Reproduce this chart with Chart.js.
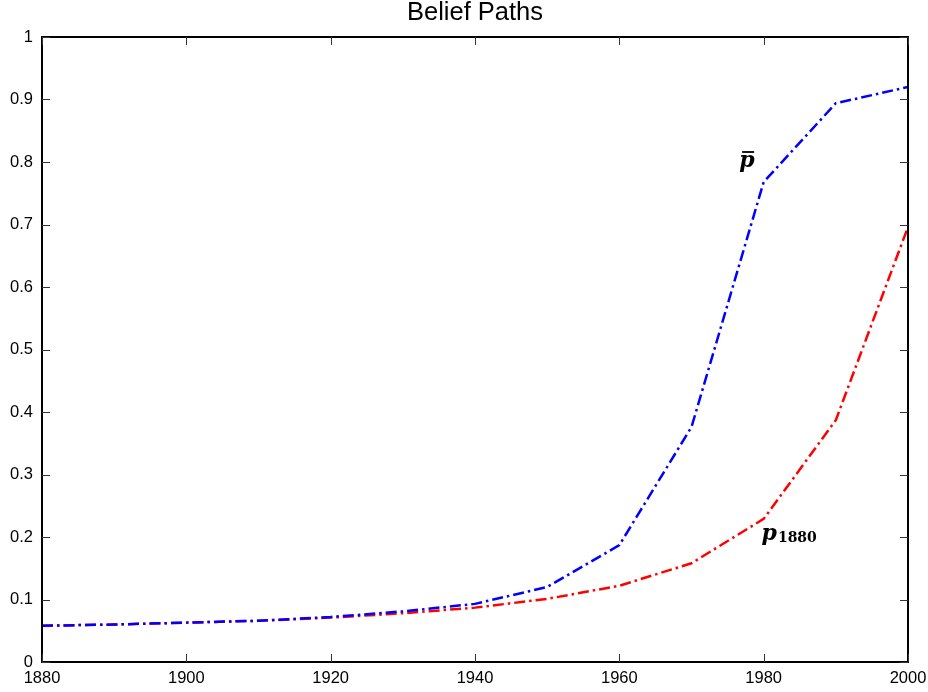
<!DOCTYPE html>
<html>
<head>
<meta charset="utf-8">
<title>Belief Paths</title>
<script src="https://cdn.jsdelivr.net/npm/chart.js@4.4.1/dist/chart.umd.min.js"></script>
<style>
    html, body { margin: 0; padding: 0; background: #fff; }
    #wrap { width: 928px; height: 692px; }
</style>
</head>
<body>
<div id="wrap"><canvas id="chart-belief"></canvas></div>
<script>
const years = [1880, 1890, 1900, 1910, 1920, 1930, 1940, 1950, 1960, 1970, 1980, 1990, 2000];
const pBar = [0.058, 0.060, 0.063, 0.066, 0.072, 0.081, 0.093, 0.120, 0.187, 0.376, 0.768, 0.894, 0.920];
const p1880 = [0.058, 0.060, 0.063, 0.066, 0.071, 0.078, 0.087, 0.101, 0.122, 0.158, 0.229, 0.387, 0.696];
const xTicks = [1880, 1900, 1920, 1940, 1960, 1980, 2000];
const yTicks = [0, 0.1, 0.2, 0.3, 0.4, 0.5, 0.6, 0.7, 0.8, 0.9, 1];

const toPoints = vals => years.map((yr, i) => ({ x: yr, y: vals[i] }));

// box round the plot area, inward ticks on all four sides, curve labels
const boxPlugin = {
    id: 'matlabBox',
    afterDraw(chart) {
        const { ctx, chartArea: a, scales } = chart;
        ctx.save();
        ctx.strokeStyle = '#000';
        ctx.lineWidth = 2;
        ctx.strokeRect(a.left, a.top, a.right - a.left, a.bottom - a.top);

        ctx.strokeStyle = '#333';
        ctx.lineWidth = 1;
        const len = 8;
        ctx.beginPath();
        xTicks.forEach(v => {
            const px = Math.round(scales.x.getPixelForValue(v)) + 0.5;
            ctx.moveTo(px, a.bottom); ctx.lineTo(px, a.bottom - len);
            ctx.moveTo(px, a.top); ctx.lineTo(px, a.top + len);
        });
        yTicks.forEach(v => {
            const py = Math.round(scales.y.getPixelForValue(v)) + 0.5;
            ctx.moveTo(a.left, py); ctx.lineTo(a.left + len, py);
            ctx.moveTo(a.right, py); ctx.lineTo(a.right - len, py);
        });
        ctx.stroke();

        // curve labels
        ctx.fillStyle = '#000';
        ctx.textBaseline = 'alphabetic';
        ctx.textAlign = 'left';
        ctx.font = 'italic 600 22px "DejaVu Serif"';
        const bx = scales.x.getPixelForValue(1976.6);
        const by = scales.y.getPixelForValue(0.792);
        ctx.fillText('p', bx, by);
        ctx.lineWidth = 1.8;
        ctx.strokeStyle = '#000';
        ctx.beginPath();
        ctx.moveTo(bx + 3, by - 15);
        ctx.lineTo(bx + 15, by - 15);
        ctx.stroke();

        const lx = scales.x.getPixelForValue(1979.7);
        const ly = scales.y.getPixelForValue(0.195);
        ctx.fillText('p', lx, ly);
        const pw = ctx.measureText('p').width;
        ctx.font = 'bold 14px "DejaVu Serif"';
        ctx.fillText('1880', lx + pw + 1, ly + 2);
        ctx.restore();
    }
};

new Chart(document.getElementById('chart-belief'), {
    type: 'line',
    data: {
        datasets: [
            {
                label: 'p bar',
                data: toPoints(pBar),
                borderColor: '#0000ff',
                borderWidth: 2.5,
                borderDash: [11, 4, 2.5, 4],
                pointRadius: 0,
                tension: 0,
                fill: false
            },
            {
                label: 'p 1880',
                data: toPoints(p1880),
                borderColor: '#ff0000',
                borderWidth: 2.5,
                borderDash: [11, 4, 2.5, 4],
                pointRadius: 0,
                tension: 0,
                fill: false
            }
        ]
    },
    options: {
        responsive: true,
        maintainAspectRatio: false,
        animation: false,
        layout: { padding: { top: 0, right: 20, bottom: 0, left: 0 } },
        plugins: {
            legend: { display: false },
            tooltip: { enabled: false },
            title: {
                display: true,
                fullSize: false,
                text: 'Belief Paths',
                color: '#000',
                font: { family: '"Liberation Sans", Arial', size: 25.5, weight: 'normal', lineHeight: 1 },
                padding: { top: 0, bottom: 11.5 }
            }
        },
        scales: {
            x: {
                type: 'linear',
                min: 1880,
                max: 2000,
                afterBuildTicks: s => { s.ticks = xTicks.map(v => ({ value: v })); },
                afterFit: s => { s.height = 30; s.paddingLeft = 0; s.paddingRight = 0; },
                grid: { display: false, drawTicks: false },
                border: { display: false },
                ticks: {
                    color: '#000',
                    padding: 7,
                    maxRotation: 0,
                    font: { family: '"Liberation Sans", Arial', size: 16.5 },
                    callback: v => String(v)
                }
            },
            y: {
                min: 0,
                max: 1,
                afterBuildTicks: s => { s.ticks = yTicks.map(v => ({ value: v })); },
                afterFit: s => { s.width = 42; s.paddingTop = 0; s.paddingBottom = 0; },
                grid: { display: false, drawTicks: false },
                border: { display: false },
                ticks: {
                    color: '#000',
                    padding: 9,
                    font: { family: '"Liberation Sans", Arial', size: 16.5 },
                    callback: v => String(Math.round(v * 10) / 10)
                }
            }
        }
    },
    plugins: [boxPlugin]
});
</script>
</body>
</html>
